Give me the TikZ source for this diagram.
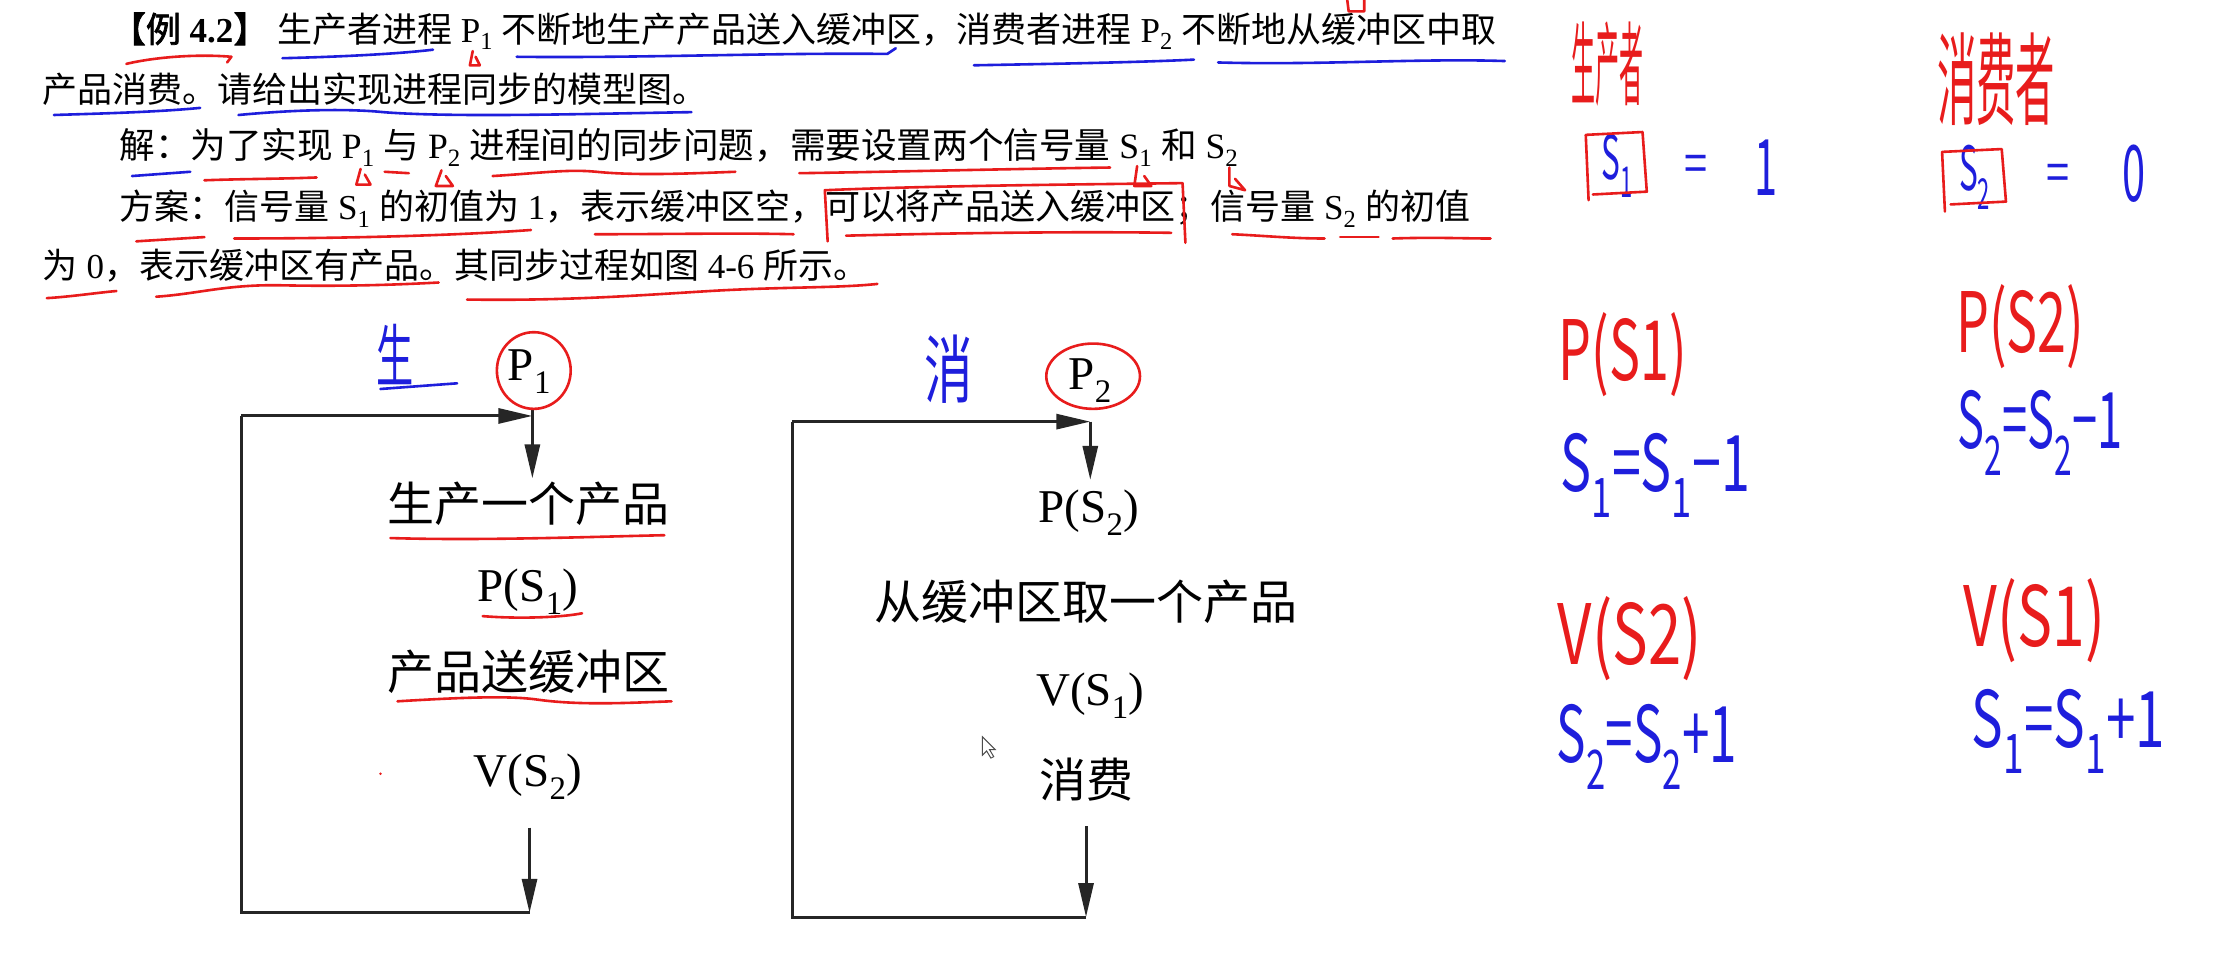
\documentclass[tikz,border=0pt]{standalone}
\usepackage{fontspec}
\usepackage{graphicx}
\setmainfont{Liberation Serif}
\newfontfamily\zh{Noto Sans CJK SC}
\newfontfamily\zhb[FakeBold=2]{Noto Sans CJK SC}
\newfontfamily\hw{Noto Sans CJK SC}
\usetikzlibrary{arrows.meta}
\definecolor{inkred}{RGB}{232,28,28}
\definecolor{inkblue}{RGB}{30,30,220}
\newcommand\sub[1]{\textsubscript{#1}}
\newcommand\hwt[4]{\scalebox{#2}[#3]{\hw\fontsize{#1}{#1}\selectfont #4}}
\begin{document}
\begin{tikzpicture}[x=1.4196pt,y=-1.4196pt,
  bodytext/.style={anchor=west,inner sep=0pt,font=\fontsize{35}{40}\selectfont},
  flowtext/.style={inner sep=0pt,font=\fontsize{47}{52}\selectfont},
  loopline/.style={line width=3pt,black!85},
  flowarrow/.style={loopline,-{Triangle[length=34pt,width=15pt]}},
  redpen/.style={inkred,line width=2.6pt,line cap=round,line join=round},
  bluepen/.style={inkblue,line width=2.6pt,line cap=round,line join=round},
  handr/.style={text=inkred,inner sep=0pt},
  handb/.style={text=inkblue,inner sep=0pt}]
\fill[white] (0,0) rectangle (1568,682);
\useasboundingbox (0,0) rectangle (1568,682);

% ---------- printed text ----------
\node[bodytext] (l1) at (78,22) {{\zhb 【例}\textbf{ 4.2}{\zhb 】} {\zh 生产者进程} P\sub{1} {\zh 不断地生产产品送入缓冲区，消费者进程} P\sub{2} {\zh 不断地从缓冲区中取}};
\node[bodytext] (l2) at (30,63) {\zh 产品消费。请给出实现进程同步的模型图。};
\node[bodytext,font=\fontsize{35.6}{40}\selectfont] (l3) at (84,104) {{\zh 解：为了实现} P\sub{1} {\zh 与} P\sub{2} {\zh 进程间的同步问题，需要设置两个信号量} S\sub{1} {\zh 和} S\sub{2}};
\node[bodytext] (l4) at (84,147) {{\zh 方案：信号量} S\sub{1} {\zh 的初值为} 1{\zh ，表示缓冲区空，可以将产品送入缓冲区；信号量} S\sub{2} {\zh 的初值}};
\node[bodytext] (l5) at (30,187) {{\zh 为} 0{\zh ，表示缓冲区有产品。其同步过程如图} 4-6 {\zh 所示。}};

% ---------- producer loop ----------
\node[flowtext] (p1) at (373,262) {P\sub{1}};
\coordinate (s1) at (375,288);
\coordinate (j1) at (375,293);
\coordinate (in1) at (375,337);
\coordinate (out1) at (373,583);
\coordinate (tl1) at (170,293);
\coordinate (bl1) at (170,643);
\coordinate (br1) at (373,643);
\node[flowtext] (a1) at (372,355) {\zh 生产一个产品};
\node[flowtext] (b1) at (372,417) {P(S\sub{1})};
\node[flowtext] (c1) at (372,473) {\zh 产品送缓冲区};
\node[flowtext] (d1) at (372,547) {V(S\sub{2})};
\draw[flowarrow] (s1) -- (in1);
\draw[flowarrow] (out1) -- (br1);
\draw[loopline] (br1) -- (bl1) -- (tl1);
\draw[flowarrow] (tl1) -- (j1);

% ---------- consumer loop ----------
\node[flowtext] (p2) at (768,268) {P\sub{2}};
\coordinate (j2) at (768,297);
\coordinate (in2) at (768,338);
\coordinate (out2) at (765,582);
\coordinate (tl2) at (558,297);
\coordinate (bl2) at (558,646);
\coordinate (br2) at (765,646);
\node[flowtext] (a2) at (767,361) {P(S\sub{2})};
\node[flowtext] (b2) at (765,424) {\zh 从缓冲区取一个产品};
\node[flowtext] (c2) at (768,490) {V(S\sub{1})};
\node[flowtext] (d2) at (765,549) {\zh 消费};
\draw[flowarrow] (j2) -- (in2);
\draw[flowarrow] (out2) -- (br2);
\draw[loopline] (br2) -- (bl2) -- (tl2);
\draw[flowarrow] (tl2) -- (j2);

% cursor
\draw[black!70,line width=1pt,fill=white] (692,519) -- (692,532) -- (695,529) -- (698,534) -- (700,533) -- (697,528) -- (701,528) -- cycle;

% ---------- pen marks on the diagram ----------
\draw[redpen] (376,261) ellipse [x radius=26, y radius=27];
\draw[redpen] (770,265) ellipse [x radius=33, y radius=23];
\draw[redpen] (275,379) .. controls (340,381) and (420,378) .. (468,377);
\draw[redpen] (340,434) .. controls (365,436) and (395,435) .. (410,432);
\draw[redpen] (280,494) .. controls (330,491) and (360,490) .. (380,493) .. controls (410,497) and (445,495) .. (473,494);
\fill[inkred] (268,545) circle [radius=1];
\node[handb] (hsheng) at (278,250) {\hwt{62}{0.6}{1.1}{生}};
\draw[bluepen] (268,274) -- (322,270);
\node[handb] (hxiao) at (668,260) {\hwt{62}{0.78}{1.2}{消}};

% ---------- pen marks on the text ----------
\draw[redpen] (949,0) -- (950,8) -- (961,8) -- (961,0);
\draw[redpen] (89,45) .. controls (110,40) and (140,38) .. (163,40) -- (160,44);
\draw[bluepen] (199,41) .. controls (240,40) and (280,38) .. (305,35);
\draw[redpen] (333,36) -- (331,46) -- (338,46) -- (335,40);
\draw[bluepen] (364,40) .. controls (450,41) and (550,37) .. (625,38) -- (631,34);
\draw[bluepen] (686,46) .. controls (740,45) and (800,44) .. (841,42);
\draw[bluepen] (858,44) .. controls (930,46) and (1000,41) .. (1060,43);
\draw[bluepen] (38,81) .. controls (70,80) and (110,79) .. (141,76);
\draw[bluepen] (168,81) .. controls (200,78) and (240,76) .. (270,79) .. controls (320,83) and (420,80) .. (487,79);
% line 3
\draw[bluepen] (93,124) -- (134,121);
\draw[redpen] (144,127) .. controls (170,126) and (200,126) .. (223,125);
\draw[redpen] (254,119) -- (251,130) -- (261,130) -- (257,123);
\draw[redpen] (271,121) -- (288,122);
\draw[redpen] (311,120) -- (307,131) -- (319,131) -- (314,124);
\draw[redpen] (347,124) .. controls (380,122) and (400,119) .. (420,121) .. controls (450,124) and (490,122) .. (518,121);
\draw[redpen] (563,122) .. controls (630,121) and (710,119) .. (782,118);
\draw[redpen] (801,117) -- (799,131) -- (811,131) -- (806,124);
\draw[redpen] (866,118) -- (866,131) -- (877,134) -- (870,126);
% line 4
\draw[redpen] (96,170) -- (144,167);
\draw[redpen] (165,168) .. controls (240,168) and (320,166) .. (374,162);
\draw[redpen] (419,165) .. controls (470,165) and (520,164) .. (559,165);
\draw[redpen] (583,170) -- (581,134) .. controls (650,131) and (750,130) .. (833,129) -- (835,171);
\draw[redpen] (596,166) .. controls (680,164) and (760,163) .. (825,164);
\draw[redpen] (868,165) .. controls (890,166) and (910,168) .. (933,168);
\draw[redpen] (944,167) -- (971,167);
\draw[redpen] (981,168) .. controls (1010,167) and (1030,168) .. (1050,168);
% line 5
\draw[redpen] (33,210) .. controls (50,209) and (70,206) .. (82,205);
\draw[redpen] (110,209) .. controls (140,207) and (160,200) .. (200,201) .. controls (250,202) and (290,200) .. (309,199);
\draw[redpen] (329,211) .. controls (400,212) and (450,208) .. (500,205) .. controls (550,202) and (590,203) .. (618,200);

% ---------- handwritten notes ----------
\node[handr] (hprod) at (1132,45) {\hwt{48}{0.5}{1.9}{生产者}};
\node[handr] (hcons) at (1406,56) {\hwt{48}{0.82}{2.1}{消费者}};
\node[handb] (hs1) at (1139,117) {\hwt{42}{0.75}{1.45}{S\sub{1}}};
\draw[redpen] (1119,141) -- (1117,95) -- (1157,93) -- (1160,135) -- (1122,137);
\node[handb] (heq1) at (1195,119) {\hwt{52}{0.8}{1}{=}};
\node[handb] (hone) at (1244,118) {\hwt{52}{0.8}{1.5}{1}};
\node[handb] (hs2) at (1391,125) {\hwt{42}{0.75}{1.45}{S\sub{2}}};
\draw[redpen] (1370,149) -- (1368,107) -- (1410,105) -- (1413,142) -- (1374,144);
\node[handb] (heq2) at (1450,125) {\hwt{52}{0.8}{1}{=}};
\node[handb] (hzero) at (1503,122) {\hwt{52}{0.8}{1.5}{0}};

\node[handr] (hp1) at (1143,250) {\hwt{52}{1}{1.6}{P(S1)}};
\node[handb] (hm1) at (1166,335) {\hwt{52}{1}{1.5}{S\sub{1}=S\sub{1}−1}};
\node[handr] (hv2) at (1148,450) {\hwt{52}{1.15}{1.6}{V(S2)}};
\node[handb] (hp2b) at (1160,526) {\hwt{52}{0.95}{1.5}{S\sub{2}=S\sub{2}+1}};
\node[handr] (hp2) at (1423,230) {\hwt{52}{1}{1.6}{P(S2)}};
\node[handb] (hm2) at (1437,305) {\hwt{52}{0.87}{1.5}{S\sub{2}=S\sub{2}−1}};
\node[handr] (hv1) at (1433,437) {\hwt{52}{1.13}{1.6}{V(S1)}};
\node[handb] (hp1b) at (1457,515) {\hwt{52}{1.02}{1.5}{S\sub{1}=S\sub{1}+1}};
\end{tikzpicture}
\end{document}
